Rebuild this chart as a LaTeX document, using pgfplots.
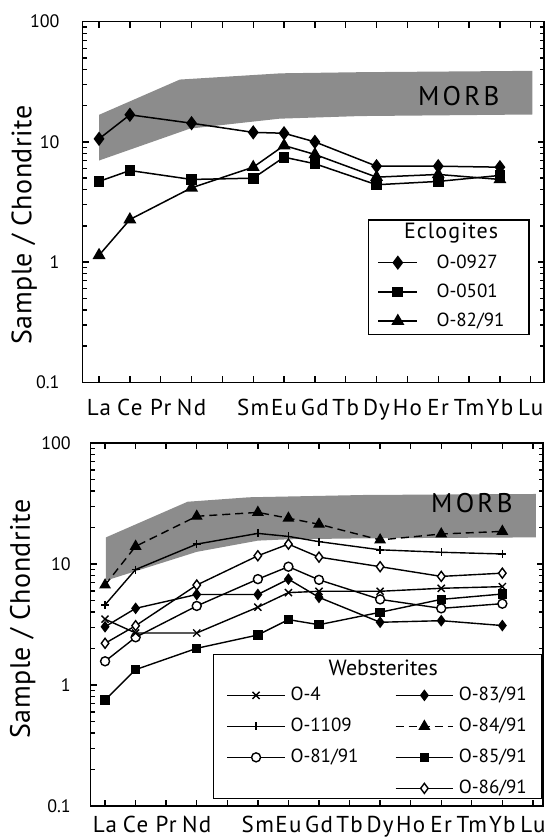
\documentclass[border=0pt]{standalone}
\usepackage{fontspec}
\setmainfont{PT Sans}
\newfontfamily\labelfont[LetterSpace=6]{PT Sans}
\newfontfamily\titlefont[LetterSpace=5]{PT Sans}
\newfontfamily\morbfont[LetterSpace=12]{PT Sans}
\newfontfamily\yfont[LetterSpace=2]{PT Sans}
\usepackage{pgfplots}
\pgfplotsset{compat=1.18}

\definecolor{morb}{RGB}{140,140,140}
\newcommand{\fsz}[1]{\fontsize{#1bp}{#1bp}\selectfont}

% sample styles
\tikzset{
  ec1/.style={black, line width=1.5bp, mark=diamond*, mark size=6bp},
  ec2/.style={black, line width=1.5bp, mark=square*, mark size=4.6bp},
  ec3/.style={black, line width=1.5bp, mark=triangle*, mark size=6bp},
  w4/.style={black, line width=1.4bp, mark=x, mark size=5bp},
  w1109/.style={black, line width=1.4bp, mark=+, mark size=4bp},
  w81/.style={black, line width=1.4bp, mark=*, mark size=4.5bp, mark options={fill=white}},
  w83/.style={black, line width=1.4bp, mark=diamond*, mark size=4.8bp},
  w84/.style={black, line width=1.4bp, dash pattern=on 8bp off 5bp, mark=triangle*, mark size=5.5bp, mark options={solid}},
  w85/.style={black, line width=1.4bp, mark=square*, mark size=4bp},
  w86/.style={black, line width=1.4bp, mark=diamond*, mark size=5bp, mark options={fill=white}},
}

\begin{document}
\begin{tikzpicture}
\useasboundingbox (0,0) rectangle (551bp,838bp);

% ---------------- Eclogites ----------------
\begin{axis}[
  scale only axis,
  at={(82.7bp,455.7bp)}, anchor=south west,
  width=461.3bp, height=360.6bp,
  xmin=0.47, xmax=15.43,
  ymode=log, ymin=0.1, ymax=100,
  ytick={0.1,1,10,100}, yticklabels={0.1,1,10,100},
  minor ytick={0.2,0.3,0.4,0.5,0.6,0.7,0.8,0.9,2,3,4,5,6,7,8,9,20,30,40,50,60,70,80,90},
  xtick={1,...,15},
  xticklabels={La,Ce,Pr,Nd,,Sm,Eu,Gd,Tb,Dy,Ho,Er,Tm,Yb,Lu},
  xtick pos=both, ytick pos=both,
  tick align=inside,
  major tick length=6.5bp, minor tick length=4.5bp,
  axis line style={line width=1.5bp},
  every tick/.style={black, line width=1.4bp},
  yticklabel style={font=\fsz{18}, anchor=east, inner sep=0pt, xshift=-23bp},
  xticklabel style={font=\labelfont\fsz{23}, anchor=base, inner sep=0pt, yshift=-33bp},
  ylabel={Sample / Chondrite},
  ylabel style={font=\yfont\fsz{28}, at={(axis description cs:-0.127,0.436)}, anchor=center},
  legend cell align=left,
  legend style={draw=black, line width=1.3bp, fill=white, font=\fsz{19},
    nodes={inner sep=0pt, text height=14bp, text depth=3bp},
    at={(axis description cs:0.618,0.452)}, anchor=north west,
    inner xsep=9bp, inner ysep=5bp, row sep=12.2bp, column sep=18.3bp},
  legend image code/.code={\draw[mark repeat=2,mark phase=2] plot coordinates {(0bp,0bp)(19.65bp,0bp)(39.3bp,0bp)};},
]
% MORB field
\addplot[fill=morb, draw=none, forget plot] coordinates {
  (1,7.0) (1,16.8) (3.62,33) (6.9,37.2) (9.45,38) (15.05,39)
  (15.05,16.9) (9.45,16.4) (6.85,15.6) (3.95,12.9)} -- cycle;
\node[anchor=base east, font=\morbfont\fsz{27}] at (axis cs:14.1,20.1) {MORB};

\addplot[ec1, forget plot] coordinates {(1,10.6)(2,16.8)(4,14.3)(6,12.0)(7,11.8)(8,10.0)(10,6.28)(12,6.28)(14,6.16)};
\addplot[ec2, forget plot] coordinates {(1,4.69)(2,5.78)(4,4.87)(6,4.99)(7,7.46)(8,6.58)(10,4.4)(12,4.69)(14,5.26)};
\addplot[ec3, forget plot] coordinates {(1,1.14)(2,2.26)(4,4.15)(6,6.16)(7,9.33)(8,7.86)(10,5.09)(12,5.36)(14,4.87)};

\addlegendimage{empty legend}\addlegendentry{\makebox[0pt][l]{\hspace*{-33bp}\titlefont\fsz{22}Eclogites}}
\addlegendimage{ec1}\addlegendentry{\makebox[83.4bp][l]{O-0927}}
\addlegendimage{ec2}\addlegendentry{\makebox[83.4bp][l]{O-0501}}
\addlegendimage{ec3}\addlegendentry{\makebox[83.4bp][l]{O-82/91}}
\end{axis}

% ---------------- Websterites ----------------
\begin{axis}[
  scale only axis,
  at={(90.7bp,32bp)}, anchor=south west,
  width=452.3bp, height=363bp,
  xmin=0.53, xmax=15.33,
  ymode=log, ymin=0.1, ymax=100,
  ytick={0.1,1,10,100}, yticklabels={0.1,1,10,100},
  minor ytick={0.2,0.3,0.4,0.5,0.6,0.7,0.8,0.9,2,3,4,5,6,7,8,9,20,30,40,50,60,70,80,90},
  xtick={1,...,15},
  xticklabels={La,Ce,Pr,Nd,,Sm,Eu,Gd,Tb,Dy,Ho,Er,Tm,Yb,Lu},
  xtick pos=both, ytick pos=both,
  tick align=inside,
  major tick length=6.5bp, minor tick length=4.5bp,
  axis line style={line width=1.5bp},
  every tick/.style={black, line width=1.4bp},
  yticklabel style={font=\fsz{18}, anchor=east, inner sep=0pt, xshift=-19.7bp},
  xticklabel style={font=\labelfont\fsz{23}, anchor=base, inner sep=0pt, yshift=-26bp},
  ylabel={Sample / Chondrite},
  ylabel style={font=\yfont\fsz{28}, at={(axis description cs:-0.1503,0.515)}, anchor=center},
  legend cell align=left,
  legend columns=2,
  legend style={draw=black, line width=1.3bp, fill=white, font=\fsz{19},
    nodes={inner sep=0pt, text height=14bp, text depth=3bp},
    at={(axis description cs:0.2697,0.419)}, anchor=north west,
    inner xsep=13.3bp, inner ysep=1.3bp, row sep=14bp, column sep=5bp},
  legend image code/.code={\draw[mark repeat=2,mark phase=2] plot coordinates {(0bp,0bp)(28.75bp,0bp)(57.5bp,0bp)};},
]
% MORB field
\addplot[fill=morb, draw=none, forget plot] coordinates {
  (1.03,7.3) (1.03,16.6) (3.7,32.7) (5.72,35.6) (9.5,37.2) (15.1,37.9)
  (15.1,16.6) (9.5,16.3) (7,16.0) (6,15.6) (4,12.6)} -- cycle;
\node[anchor=base east, font=\morbfont\fsz{27}] at (axis cs:14.45,26.8) {MORB};

\addplot[w84, forget plot] coordinates {(1,6.7)(2,14.0)(4,24.8)(6,26.7)(7,23.9)(8,21.3)(10,15.8)(12,17.7)(14,18.6)};
\addplot[w1109, forget plot] coordinates {(1,4.6)(2,9.0)(4,14.6)(6,17.9)(7,16.9)(8,15.3)(10,13.1)(12,12.5)(14,12.1)};
\addplot[w86, forget plot] coordinates {(1,2.21)(2,3.09)(4,6.7)(6,11.7)(7,14.6)(8,11.4)(10,9.5)(12,7.9)(14,8.4)};
\addplot[w81, forget plot] coordinates {(1,1.57)(2,2.48)(4,4.5)(6,7.5)(7,9.5)(8,7.4)(10,5.1)(12,4.3)(14,4.7)};
\addplot[w83, forget plot] coordinates {(1,3.03)(2,4.3)(4,5.6)(6,5.6)(7,7.5)(8,5.3)(10,3.3)(12,3.4)(14,3.1)};
\addplot[w4, forget plot] coordinates {(1,3.5)(2,2.69)(4,2.69)(6,4.4)(7,5.8)(8,5.95)(10,5.95)(12,6.3)(14,6.5)};
\addplot[w85, forget plot] coordinates {(1,0.75)(2,1.34)(4,2.01)(6,2.59)(7,3.47)(8,3.15)(10,3.99)(12,5.1)(14,5.65)};

\addlegendimage{empty legend}\addlegendentry{\makebox[0pt][l]{\hspace*{37.7bp}\raisebox{-6bp}{\fsz{22}Websterites}}}
\addlegendimage{empty legend}\addlegendentry{}
\addlegendimage{w4}\addlegendentry{\makebox[99.4bp][l]{O-4}}
\addlegendimage{w83}\addlegendentry{\makebox[70bp][l]{O-83/91}}
\addlegendimage{w1109}\addlegendentry{\makebox[99.4bp][l]{O-1109}}
\addlegendimage{w84}\addlegendentry{\makebox[70bp][l]{O-84/91}}
\addlegendimage{w81}\addlegendentry{\makebox[99.4bp][l]{O-81/91}}
\addlegendimage{w85}\addlegendentry{\makebox[70bp][l]{O-85/91}}
\addlegendimage{empty legend}\addlegendentry{}
\addlegendimage{w86}\addlegendentry{\makebox[70bp][l]{O-86/91}}
\end{axis}
\end{tikzpicture}
\end{document}
